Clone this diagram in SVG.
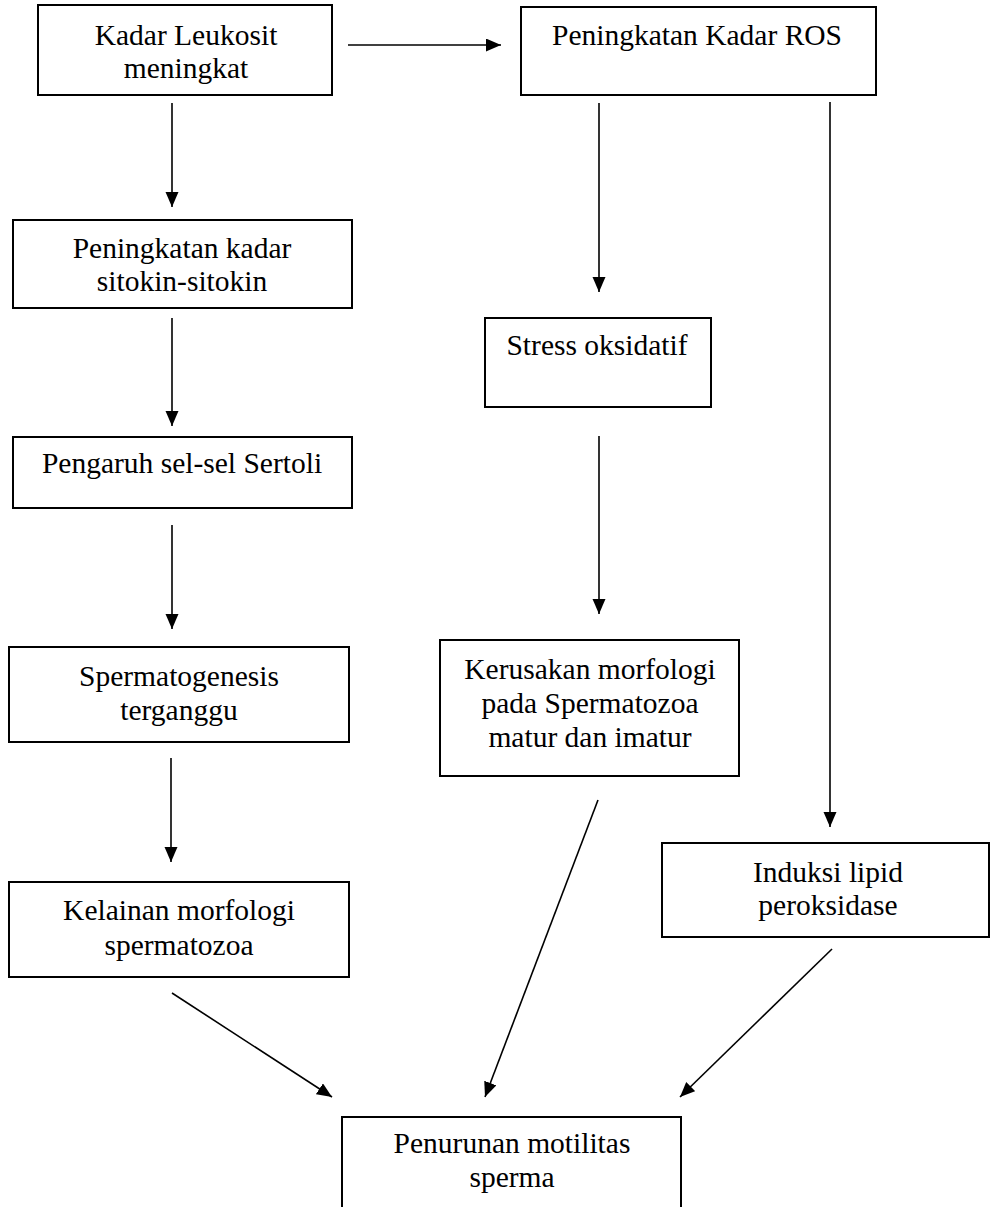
<svg xmlns="http://www.w3.org/2000/svg" width="990" height="1207" viewBox="0 0 990 1207">
<defs>
<style>
.box{fill:#fff;stroke:#000;stroke-width:2}
.t{font-family:"Liberation Serif","Times New Roman",serif;font-size:29.5px;fill:#000;text-anchor:middle}
.c{stroke:#000;stroke-width:1.6;fill:none;marker-end:url(#ah)}
</style>
<marker id="ah" markerUnits="userSpaceOnUse" markerWidth="16" markerHeight="14" refX="15" refY="6.5" orient="auto">
<path d="M0,0 L15,6.5 L0,13 z" fill="#000"/>
</marker>
</defs>
<rect width="990" height="1207" fill="#fff"/>
<g id="connectors">
<line class="c" x1="348" y1="45" x2="501" y2="45"/>
<line class="c" x1="172" y1="103" x2="172" y2="207"/>
<line class="c" x1="172" y1="318" x2="172" y2="426"/>
<line class="c" x1="172" y1="525" x2="172" y2="629"/>
<line class="c" x1="171" y1="758" x2="171" y2="862"/>
<line class="c" x1="599" y1="103" x2="599" y2="292"/>
<line class="c" x1="599" y1="436" x2="599" y2="614"/>
<line class="c" x1="830" y1="102" x2="830" y2="827"/>
<line class="c" x1="172" y1="993" x2="332" y2="1097"/>
<line class="c" x1="598" y1="800" x2="485" y2="1097"/>
<line class="c" x1="832" y1="949" x2="680" y2="1097"/>
</g>
<g id="n1">
<rect class="box" x="38" y="5" width="294" height="90"/>
<text class="t" x="186" y="45">Kadar Leukosit</text>
<text class="t" x="186" y="78">meningkat</text>
</g>
<g id="n2">
<rect class="box" x="521" y="7" width="355" height="88"/>
<text class="t" x="697" y="45">Peningkatan Kadar ROS</text>
</g>
<g id="n3">
<rect class="box" x="13" y="220" width="339" height="88"/>
<text class="t" x="182" y="258">Peningkatan kadar</text>
<text class="t" x="182" y="291">sitokin-sitokin</text>
</g>
<g id="n4">
<rect class="box" x="13" y="437" width="339" height="71"/>
<text class="t" x="182" y="473">Pengaruh sel-sel Sertoli</text>
</g>
<g id="n5">
<rect class="box" x="9" y="647" width="340" height="95"/>
<text class="t" x="179" y="686">Spermatogenesis</text>
<text class="t" x="179" y="720">terganggu</text>
</g>
<g id="n6">
<rect class="box" x="9" y="882" width="340" height="95"/>
<text class="t" x="179" y="920">Kelainan morfologi</text>
<text class="t" x="179" y="955">spermatozoa</text>
</g>
<g id="n7">
<rect class="box" x="485" y="318" width="226" height="89"/>
<text class="t" x="597" y="355">Stress oksidatif</text>
</g>
<g id="n8">
<rect class="box" x="440" y="640" width="299" height="136"/>
<text class="t" x="590" y="679">Kerusakan morfologi</text>
<text class="t" x="590" y="713">pada Spermatozoa</text>
<text class="t" x="590" y="747">matur dan imatur</text>
</g>
<g id="n9">
<rect class="box" x="662" y="843" width="327" height="94"/>
<text class="t" x="828" y="882">Induksi lipid</text>
<text class="t" x="828" y="915">peroksidase</text>
</g>
<g id="n10">
<rect class="box" x="342" y="1117" width="339" height="110"/>
<text class="t" x="512" y="1153">Penurunan motilitas</text>
<text class="t" x="512" y="1187">sperma</text>
</g>
</svg>
